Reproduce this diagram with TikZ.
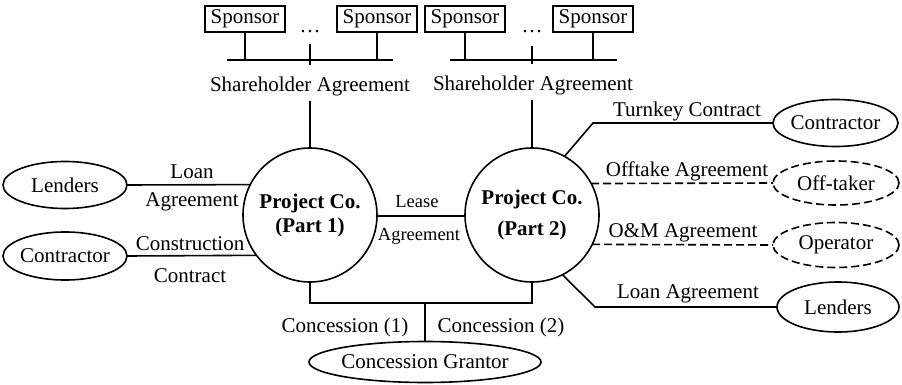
\documentclass[tikz,border=0pt]{standalone}
\usepackage{fontspec}
\setmainfont{Liberation Serif}
\usetikzlibrary{shapes.geometric}
% keep ellipse/circle sizes independent of the text width
\newcommand\flattext[1]{\makebox[0pt]{#1}}
\begin{document}
\begin{tikzpicture}[x=1pt,y=-1pt,
  line width=1.6pt,
  every node/.style={font=\fontsize{21}{25}\selectfont, inner sep=0pt, outer sep=0pt},
  lbl/.style={anchor=base, inner sep=4pt},
  smalllbl/.style={anchor=base, inner sep=3pt, font=\fontsize{18.5}{22}\selectfont},
  sponsorbox/.style={draw, minimum width=80pt, minimum height=26pt},
  party/.style={draw, ellipse},
  maybe/.style={dash pattern=on 8pt off 4pt},
  projco/.style={draw, circle, minimum size=134pt, align=center,
    font=\fontsize{21}{25}\selectfont\bfseries},
]
\useasboundingbox (0,0) rectangle (902,385);

% ---- sponsors and shareholder agreements
\node[sponsorbox] (sp1) at (245,19) {Sponsor};
\node[sponsorbox] (sp2) at (377,19) {Sponsor};
\node[sponsorbox] (sp3) at (465,19) {Sponsor};
\node[sponsorbox] (sp4) at (593,19) {Sponsor};
\node[lbl] (dotsA) at (310,33) {\dots};
\node[lbl] (dotsB) at (532,33) {\dots};

\coordinate (busA1) at (227,60);
\coordinate (busA2) at (393,60);
\coordinate (busB1) at (450,60);
\coordinate (busB2) at (617,60);
\coordinate (tickA1) at (310,44);
\coordinate (tickA2) at (310,65);
\coordinate (tickB1) at (532,46);
\coordinate (tickB2) at (532,64);

\draw (busA1) -- (busA2);
\draw (busB1) -- (busB2);
\draw (sp1.south) -- (sp1.south |- busA1);
\draw (sp2.south) -- (sp2.south |- busA1);
\draw (sp3.south) -- (sp3.south |- busB1);
\draw (sp4.south) -- (sp4.south |- busB1);
\draw (tickA1) -- (tickA2);
\draw (tickB1) -- (tickB2);

\node[lbl] (sha1) at (310,92) {Shareholder Agreement};
\node[lbl] (sha2) at (533,91) {Shareholder Agreement};

% ---- project companies
\node[projco] (pc1) at (310,215) {Project Co.\\[-1pt](Part 1)};
\node[projco] (pc2) at (532,215) {Project Co.\\[6pt](Part 2)};

\draw (sha1.south -| pc1.north) -- (pc1.north);
\draw (sha2.south -| pc2.north) -- (pc2.north);

% ---- left-hand parties
\node[party, minimum width=124pt, minimum height=47pt] (lendL) at (65,185) {\flattext{Lenders}};
\node[party, minimum width=124pt, minimum height=48pt] (contrL) at (65,256) {\flattext{Contractor}};

\draw (lendL.east) -- (pc1.153.4);
\draw (contrL.east) -- (pc1.217.7);
\node[lbl] (loanL1) at (192,178) {Loan};
\node[lbl] (loanL2) at (192,206) {Agreement};
\node[lbl] (cons1) at (190,250) {Construction};
\node[lbl] (cons2) at (190,282) {Contract};

% ---- lease between the two parts
\draw (pc1.-1.7) -- (pc2.181.7);
\node[smalllbl] (lease1) at (417,207) {Lease};
\node[smalllbl] (lease2) at (419,240) {Agreement};

% ---- right-hand parties
\node[party, minimum width=125pt, minimum height=47pt] (contrR) at (835.5,123) {\flattext{Contractor}};
\node[party, maybe, minimum width=126pt, minimum height=44pt] (offt) at (836,183) {\flattext{Off-taker}};
\node[party, maybe, minimum width=126pt, minimum height=45pt] (oper) at (836,245) {\flattext{Operator}};
\node[party, minimum width=122pt, minimum height=50pt] (lendR) at (838,307) {\flattext{Lenders}};

\coordinate (tkBend) at (593,123);
\coordinate (lnBend) at (595,307);
\draw (pc2.61) -- (tkBend) -- (contrR.west);
\draw[maybe] (pc2.28.5) -- (offt.west);
\draw[maybe] (pc2.-26.6) -- (oper.west);
\draw (pc2.-63.4) -- (lnBend) -- (lendR.west);

\node[lbl] (tkText) at (687,117) {Turnkey Contract};
\node[lbl] (offText) at (687,176) {Offtake Agreement};
\node[lbl] (omText) at (683,237) {O\&M Agreement};
\node[lbl] (lnText) at (688,298) {Loan Agreement};

% ---- concessions
\node[party, minimum width=232pt, minimum height=41pt] (grantor) at (425,362) {\flattext{Concession Grantor}};
\coordinate (cj) at (425,303);
\draw (pc1.south) |- (cj) -| (pc2.south);
\draw (cj) -- (grantor.north);
\node[lbl] (conc1) at (345,332) {Concession (1)};
\node[lbl] (conc2) at (501,332) {Concession (2)};
\end{tikzpicture}
\end{document}
